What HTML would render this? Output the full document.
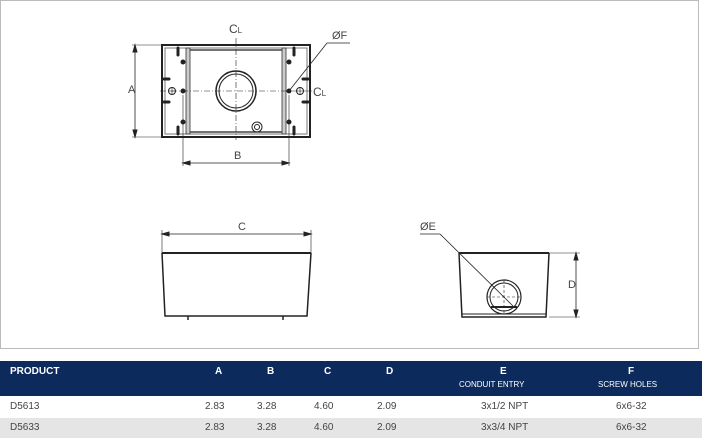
<!DOCTYPE html>
<html><head><style>
body{margin:0;width:702px;height:441px;background:#fff;font-family:"Liberation Sans",sans-serif;overflow:hidden;position:relative}
.t{position:absolute;font-size:10px;color:#444}
.h{color:#fff;font-weight:bold;font-size:10px}
.s{color:#fff;font-size:8px}
</style></head><body>
<svg width="702" height="441" style="position:absolute;left:0;top:0">
<rect x="0.5" y="0.5" width="698" height="348" fill="#fff" stroke="#bbb"/>
<g stroke="#222" fill="none" font-family="Liberation Sans" font-size="11">
<rect x="162" y="45" width="148" height="92" stroke-width="2"/>
<rect x="165" y="48" width="142" height="86" stroke="#777"/>
<rect x="186" y="48" width="4" height="86" fill="#ccc" stroke="#333" stroke-width=".8"/>
<rect x="282" y="48" width="4" height="86" fill="#ccc" stroke="#333" stroke-width=".8"/>
<line x1="190" y1="50" x2="282" y2="50" stroke-width="1.2"/>
<line x1="190" y1="132" x2="282" y2="132" stroke-width="1.2"/>
<circle cx="236" cy="91" r="20" stroke-width="1.5"/>
<circle cx="236" cy="91" r="17"/>
<line x1="236" y1="38" x2="236" y2="140" stroke-dasharray="6,2,1,2" stroke-width=".6"/>
<line x1="160" y1="91" x2="312" y2="91" stroke-dasharray="6,2,1,2" stroke-width=".6"/>
<g fill="#222"><circle cx="183" cy="62" r="2"/><circle cx="183" cy="91" r="2"/><circle cx="183" cy="122" r="2"/><circle cx="289" cy="62" r="2"/><circle cx="289" cy="91" r="2"/><circle cx="289" cy="122" r="2"/></g>
<circle cx="172" cy="91" r="3.5"/><circle cx="300" cy="91" r="3.5"/>
<path d="M168 91h8M172 87v8M296 91h8M300 87v8" stroke-width=".6"/>
<path d="M178 48v7M294 48v7M178 127v7M294 127v7M164 79h5M164 102h5M303 79h5M303 102h5" stroke-width="3" stroke-linecap="round"/>
<circle cx="257" cy="127" r="5"/><circle cx="257" cy="127" r="2.5"/>
<line x1="183" y1="95" x2="183" y2="166" stroke-width=".6"/><line x1="289" y1="95" x2="289" y2="166" stroke-width=".6"/>
<line x1="183" y1="163" x2="289" y2="163" stroke-width=".8"/>
<path d="M183 163l7-2v4zM289 163l-7-2v4z" fill="#222"/>
<line x1="132" y1="45" x2="162" y2="45" stroke-width=".6"/><line x1="132" y1="137" x2="162" y2="137" stroke-width=".6"/>
<line x1="135" y1="45" x2="135" y2="137" stroke-width=".8"/>
<path d="M135 45l-2 7h4zM135 137l-2-7h4z" fill="#222"/>
<line x1="289" y1="91" x2="327" y2="43" stroke-width=".8"/><line x1="327" y1="43" x2="350" y2="43" stroke-width=".8"/>
<line x1="162" y1="253" x2="311" y2="253" stroke-width="2"/>
<path d="M162 253L165 316H307L311 253" stroke-width="1.5"/>
<path d="M188 316v4M283 316v4" stroke-width="1.5"/>
<line x1="162" y1="230" x2="162" y2="253" stroke-width=".6"/><line x1="311" y1="230" x2="311" y2="253" stroke-width=".6"/>
<line x1="162" y1="234" x2="311" y2="234" stroke-width=".8"/>
<path d="M162 234l7-2v4zM311 234l-7-2v4z" fill="#222"/>
<line x1="459" y1="253" x2="549" y2="253" stroke-width="2"/>
<path d="M459 253L462 317H546L549 253" stroke-width="1.5"/>
<line x1="462" y1="314" x2="546" y2="314"/>
<circle cx="504" cy="297" r="17" stroke-width="1.2"/><circle cx="504" cy="297" r="14"/>
<path d="M504 280v34M487 297h34" stroke-dasharray="3,2" stroke-width=".6"/>
<line x1="491" y1="307" x2="517" y2="307" stroke-width="2"/>
<path d="M440 234H420M440 234L513 306" stroke-width=".8"/>
<line x1="549" y1="253" x2="580" y2="253" stroke-width=".6"/><line x1="549" y1="317" x2="580" y2="317" stroke-width=".6"/>
<line x1="576" y1="253" x2="576" y2="317" stroke-width=".8"/>
<path d="M576 253l-2 7h4zM576 317l-2-7h4z" fill="#222"/>
</g>
<rect x="0" y="361" width="702" height="35" fill="#0c2a5b"/>
<rect x="0" y="418" width="702" height="20" fill="#e5e5e5"/>
</svg>
<div class="t" style="left:229px;top:22px;font-size:12px">C<span style="font-size:8px">L</span></div>
<div class="t" style="left:332px;top:30px;font-size:11px">ØF</div>
<div class="t" style="left:313px;top:85px;font-size:12px">C<span style="font-size:8px">L</span></div>
<div class="t" style="left:128px;top:84px;font-size:11px">A</div>
<div class="t" style="left:234px;top:150px;font-size:11px">B</div>
<div class="t" style="left:238px;top:221px;font-size:11px">C</div>
<div class="t" style="left:420px;top:221px;font-size:11px">ØE</div>
<div class="t" style="left:568px;top:279px;font-size:11px">D</div>
<div class="t h" style="left:10px;top:366px">PRODUCT</div>
<div class="t h" style="left:215px;top:366px">A</div>
<div class="t h" style="left:267px;top:366px">B</div>
<div class="t h" style="left:324px;top:366px">C</div>
<div class="t h" style="left:386px;top:366px">D</div>
<div class="t h" style="left:500px;top:366px">E</div>
<div class="t h" style="left:628px;top:366px">F</div>
<div class="t s" style="left:459px;top:380px">CONDUIT ENTRY</div>
<div class="t s" style="left:598px;top:380px">SCREW HOLES</div>
<div class="t" style="left:10px;top:401px">D5613</div>
<div class="t" style="left:205px;top:401px">2.83</div>
<div class="t" style="left:257px;top:401px">3.28</div>
<div class="t" style="left:314px;top:401px">4.60</div>
<div class="t" style="left:377px;top:401px">2.09</div>
<div class="t" style="left:481px;top:401px">3x1/2 NPT</div>
<div class="t" style="left:616px;top:401px">6x6-32</div>
<div class="t" style="left:10px;top:422px">D5633</div>
<div class="t" style="left:205px;top:422px">2.83</div>
<div class="t" style="left:257px;top:422px">3.28</div>
<div class="t" style="left:314px;top:422px">4.60</div>
<div class="t" style="left:377px;top:422px">2.09</div>
<div class="t" style="left:481px;top:422px">3x3/4 NPT</div>
<div class="t" style="left:616px;top:422px">6x6-32</div>
</body></html>
